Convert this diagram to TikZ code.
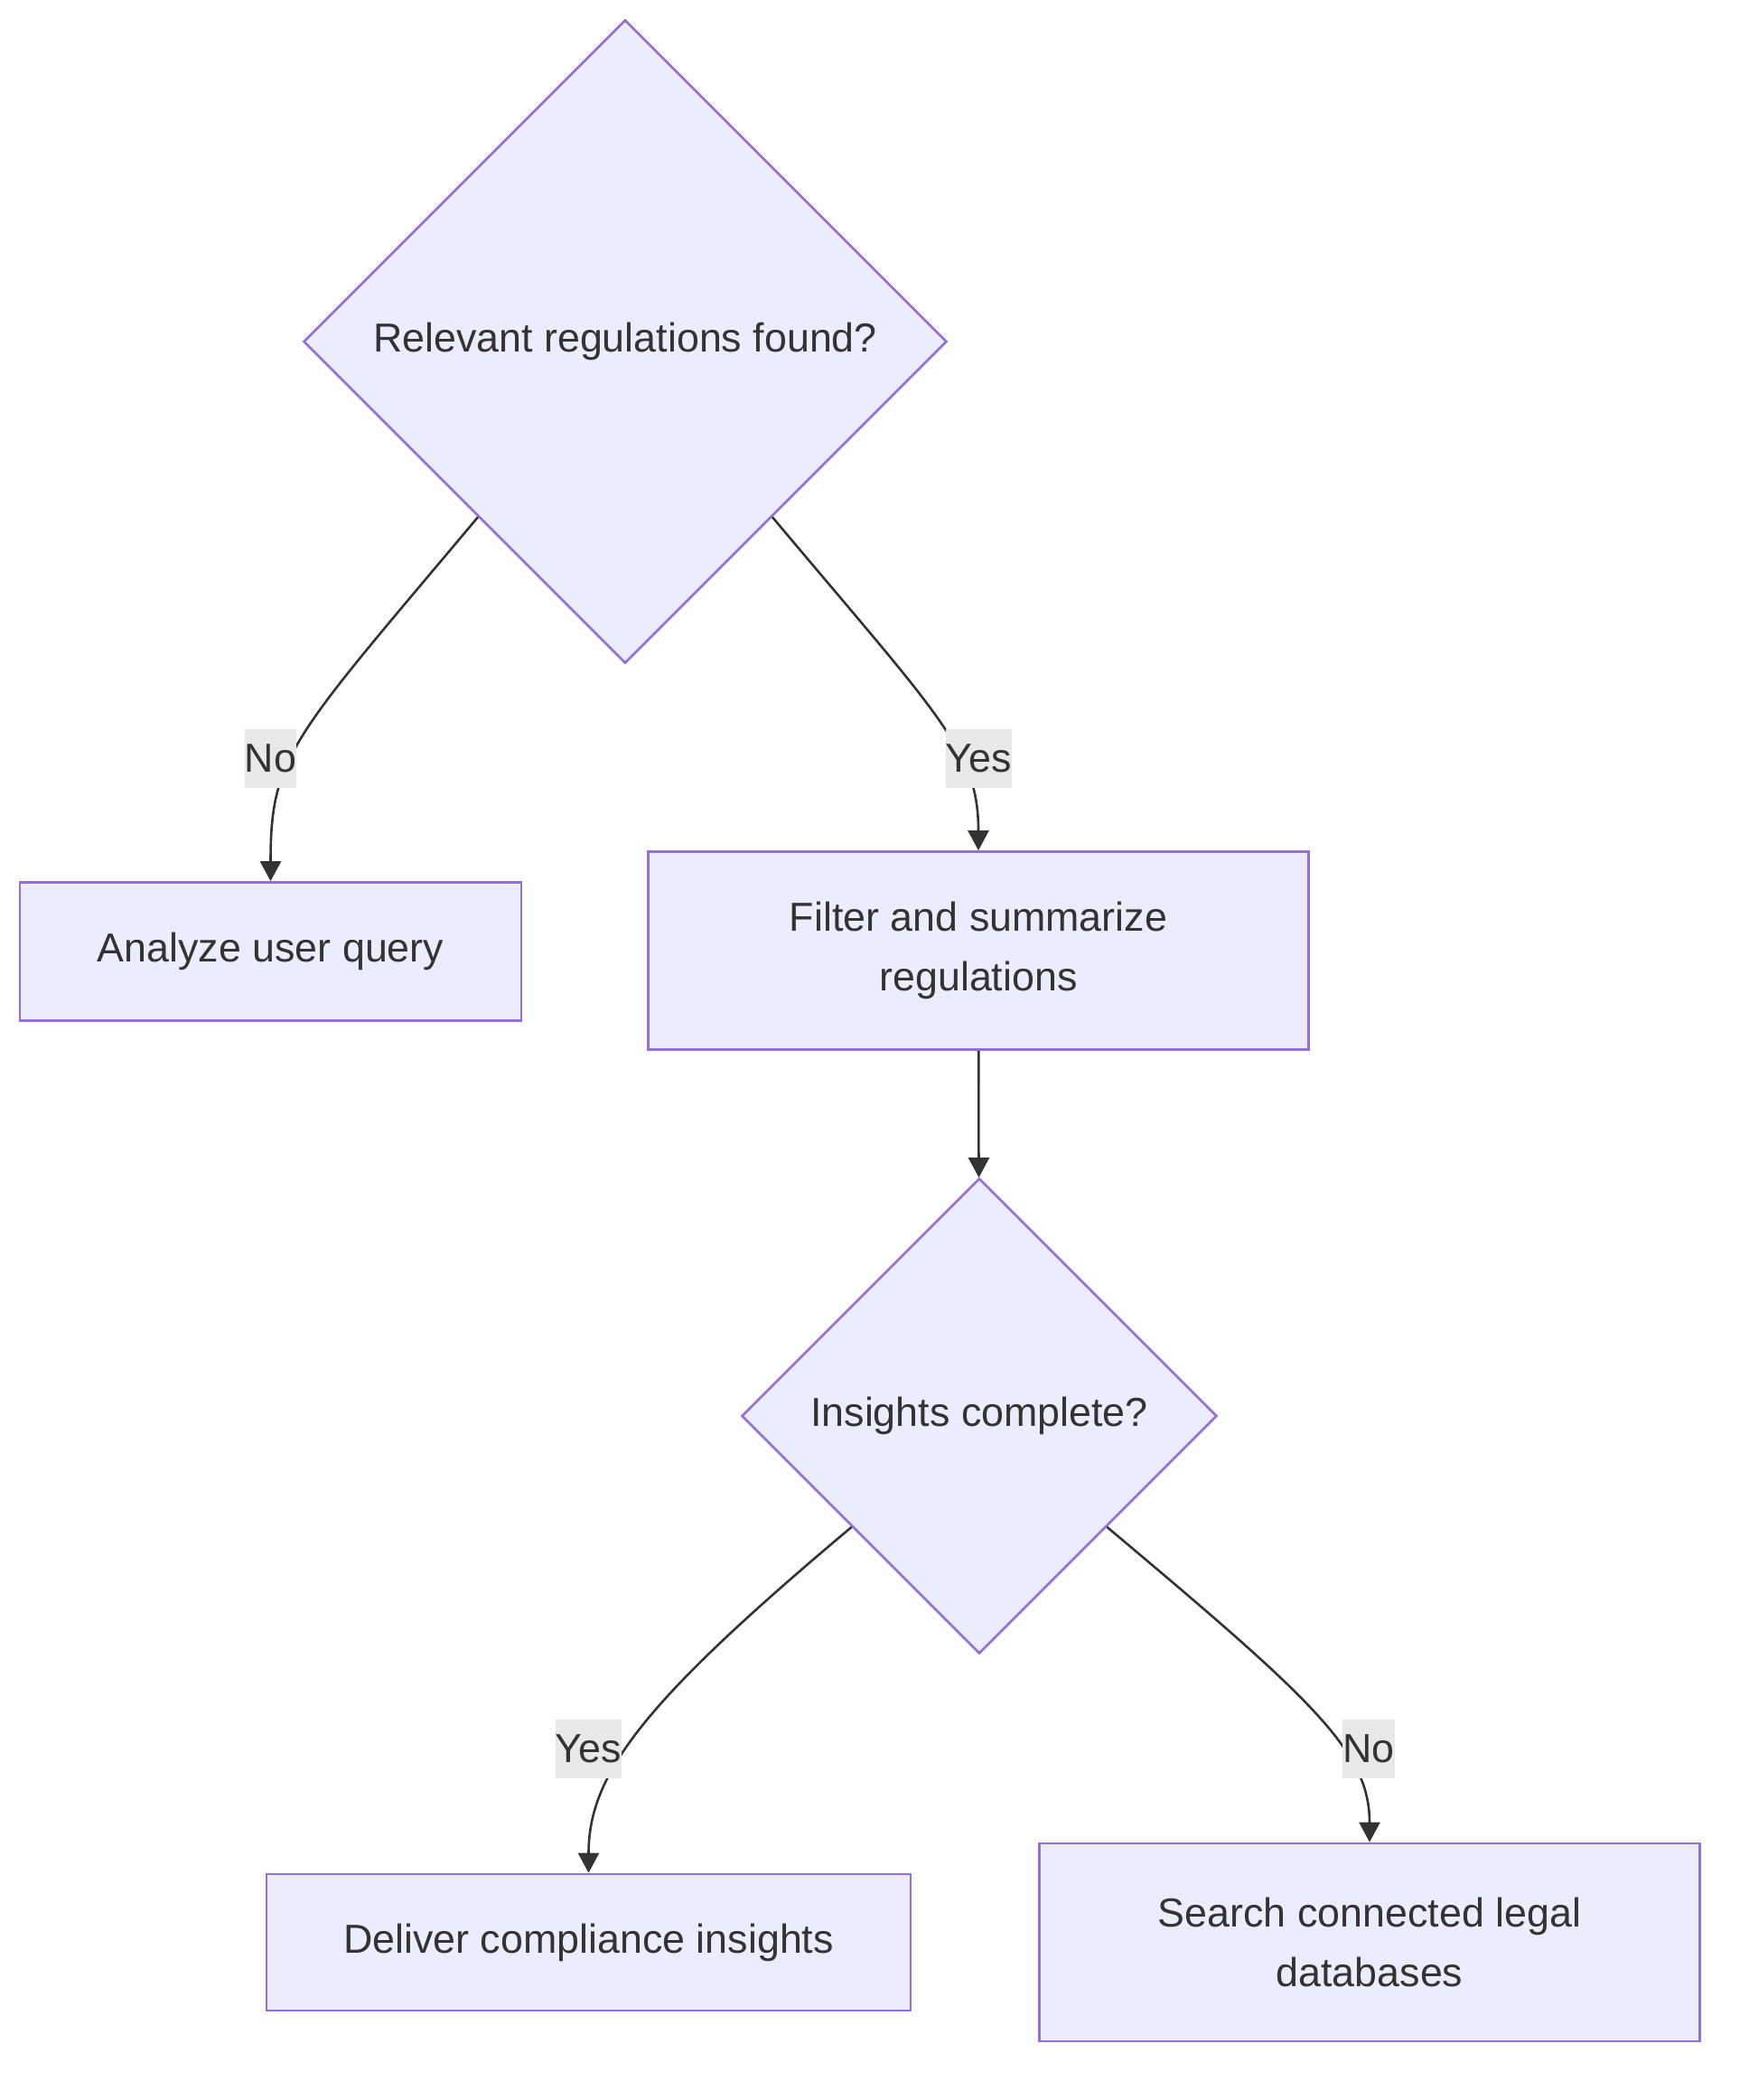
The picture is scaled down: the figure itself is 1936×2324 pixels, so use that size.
\documentclass[tikz,border=0pt]{standalone}
\usepackage{fontspec}
\setmainfont{Liberation Sans}
\usetikzlibrary{shapes.geometric,arrows.meta}
\definecolor{nodefill}{HTML}{ECECFF}
\definecolor{nodeline}{HTML}{9370DB}
\definecolor{inkgray}{HTML}{333333}
\definecolor{lblfill}{HTML}{E8E8E8}

\begin{document}
\begin{tikzpicture}[x=0.5pt,y=-0.5pt,
    font=\fontsize{22.4pt}{32.6pt}\selectfont, text=inkgray,
    procbox/.style={draw=nodeline,fill=nodefill,line width=1.35pt,inner sep=0pt,align=center},
    decision/.style={diamond,aspect=1,draw=nodeline,fill=nodefill,line width=1.35pt,inner sep=0pt},
    edgelbl/.style={fill=lblfill,inner sep=0pt,minimum height=32.5pt},
    flow/.style={draw=inkgray,line width=1.3pt,-{Triangle[width=11.5pt,length=11pt]}}]
    \useasboundingbox (0,0) rectangle (1936,2324);
    % ---- steps and decisions ----
    \node[decision,minimum size=356pt] (found) at (692,378) {Relevant regulations found?};
    \node[procbox,minimum width=277.5pt,minimum height=76.5pt] (analyze) at (299.5,1053) {Analyze user query};
    \node[procbox,minimum width=365.5pt,minimum height=109.5pt] (filter) at (1083,1052) {Filter and summarize\\regulations};
    \node[decision,minimum size=263pt] (complete) at (1084,1567) {Insights complete?};
    \node[procbox,minimum width=356.5pt,minimum height=75.5pt] (deliver) at (651.5,2149.5) {Deliver compliance insights};
    \node[procbox,minimum width=365.5pt,minimum height=109.5pt] (search) at (1516,2149.5) {Search connected legal\\databases};
    % ---- connectors ----
    \draw[flow] (found.230) .. controls +(230:160pt) and +(90:70pt) .. (analyze.north);
    \draw[flow] (found.310) .. controls +(310:145pt) and +(90:55pt) .. (filter.north);
    \draw[flow] (filter) -- (complete);
    \draw[flow] (complete.221) .. controls +(220:150pt) and +(90:55pt) .. (deliver.north);
    \draw[flow] (complete.319) .. controls +(320:150pt) and +(90:50pt) .. (search.north);
    % ---- edge labels ----
    \foreach \n/\x/\y/\t in {nofound/299.5/839/No, yesfound/1083.5/839/Yes,
                             yesdone/651.5/1935/Yes, nodone/1515/1935/No}{
      \node[edgelbl] (\n) at (\x,\y) {\t};}
\end{tikzpicture}
\end{document}
